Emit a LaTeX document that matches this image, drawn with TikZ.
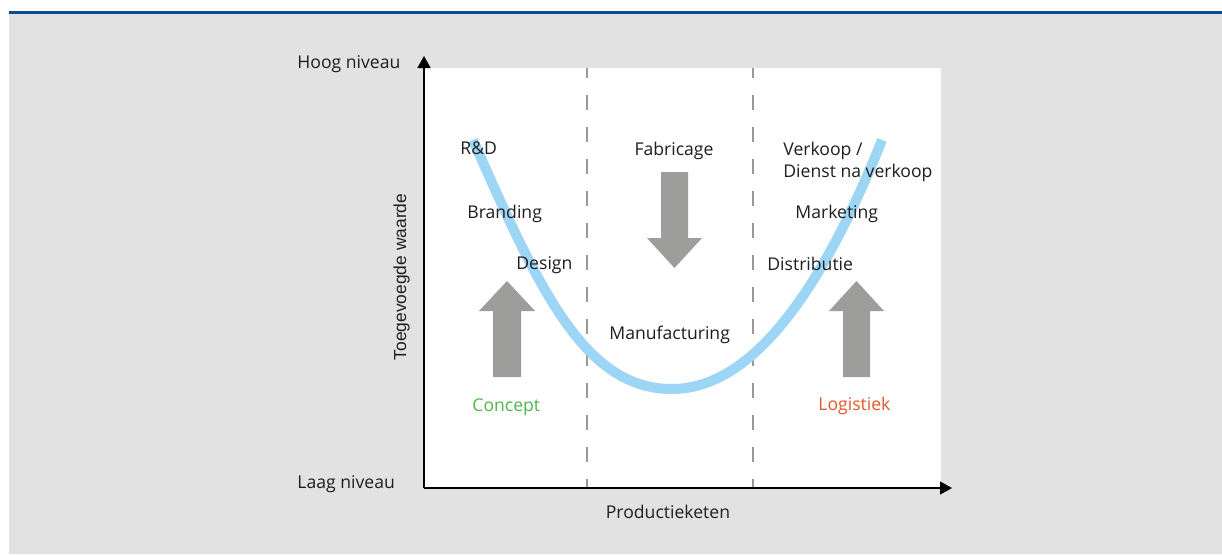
\documentclass[tikz,border=0pt]{standalone}
\usepackage{fontspec}
\setmainfont{Open Sans}
\newfontfamily\axisfont{Liberation Sans}
\usetikzlibrary{arrows.meta}

\definecolor{panelgray}{HTML}{E2E2E2}
\definecolor{topblue}{HTML}{0E4C92}
\definecolor{curveblue}{HTML}{9DD5F5}
\definecolor{arrowgray}{HTML}{9D9D9C}
\definecolor{dashgray}{HTML}{999999}
\definecolor{conceptgreen}{HTML}{4CB848}
\definecolor{logistiekorange}{HTML}{E2592A}
\definecolor{textblack}{HTML}{1E1E1E}

\begin{document}
\begin{tikzpicture}[x=0.5pt, y=-0.5pt,
    lbl/.style={font=\fontsize{8.8}{11}\selectfont, inner sep=0pt, text=textblack},
    axis/.style={line width=0.75pt, -{Triangle[width=6.5pt,length=6pt]}},
    divider/.style={color=dashgray, line width=1.3pt, dash pattern=on 7.5pt off 8.5pt, dash phase=2.5pt}]

    \useasboundingbox (0,0) rectangle (1222,554);

    % background and panel
    \fill[panelgray] (9,13) rectangle (1222,554);
    \fill[topblue] (9,11) rectangle (1222,13.5);
    \fill[white] (424,68) rectangle (941,488);

    % dividers
    \draw[divider] (587,68) -- (587,488);
    \draw[divider] (753,68) -- (753,488);

    % smile curve
    \coordinate (curveleft) at (473,140);
    \coordinate (curvelow) at (672,389);
    \coordinate (curveright) at (882,140);
    \draw[color=curveblue, line width=5pt] (curveleft) .. controls (540,292) and (585,389) .. (curvelow)
        .. controls (760,389) and (830,270) .. (curveright);

    % block arrows
    \fill[arrowgray] (493,377) -- (493,311) -- (479,311) -- (507,281) -- (535,311) -- (521,311) -- (521,377) -- cycle;
    \fill[arrowgray] (843,377) -- (843,311) -- (829,311) -- (856.5,281) -- (884,311) -- (870,311) -- (870,377) -- cycle;
    \fill[arrowgray] (661,172) -- (661,238) -- (647,238) -- (674.5,268) -- (702,238) -- (688,238) -- (688,172) -- cycle;

    % axes
    \coordinate (origin) at (424,488);
    \coordinate (ytip) at (424,56);
    \coordinate (xtip) at (952,488);
    \draw[axis] (origin) -- (ytip);
    \draw[axis] (origin) -- (xtip);

    % axis labels
    \node[lbl, anchor=base west] (hoog) at (297,68) {Hoog niveau};
    \node[lbl, anchor=base west] (laag) at (297,488) {Laag niveau};
    \node[lbl, font=\axisfont\fontsize{8.7}{11}\selectfont, rotate=90, anchor=base] (waarde) at (406,277) {Toegevoegde waarde};
    \node[lbl, anchor=base] (keten) at (668,518) {Productieketen};

    % stages
    \node[lbl, anchor=base west] (rd) at (460,154) {R\&D};
    \node[lbl, anchor=base west] (branding) at (467,218) {Branding};
    \node[lbl, anchor=base west] (design) at (516,269) {Design};
    \node[lbl, anchor=base] (fabricage) at (674,155) {Fabricage};
    \node[lbl, anchor=base west] (manufacturing) at (609,339) {Manufacturing};
    \node[lbl, anchor=base west, align=left] (verkoop) at (783,177) {Verkoop /\\Dienst na verkoop};
    \node[lbl, anchor=base west] (marketing) at (795,218) {Marketing};
    \node[lbl, anchor=base west] (distributie) at (767,270) {Distributie};
    \node[lbl, anchor=base west, text=conceptgreen] (concept) at (472,411) {Concept};
    \node[lbl, anchor=base west, text=logistiekorange] (logistiek) at (818,410) {Logistiek};

\end{tikzpicture}
\end{document}
